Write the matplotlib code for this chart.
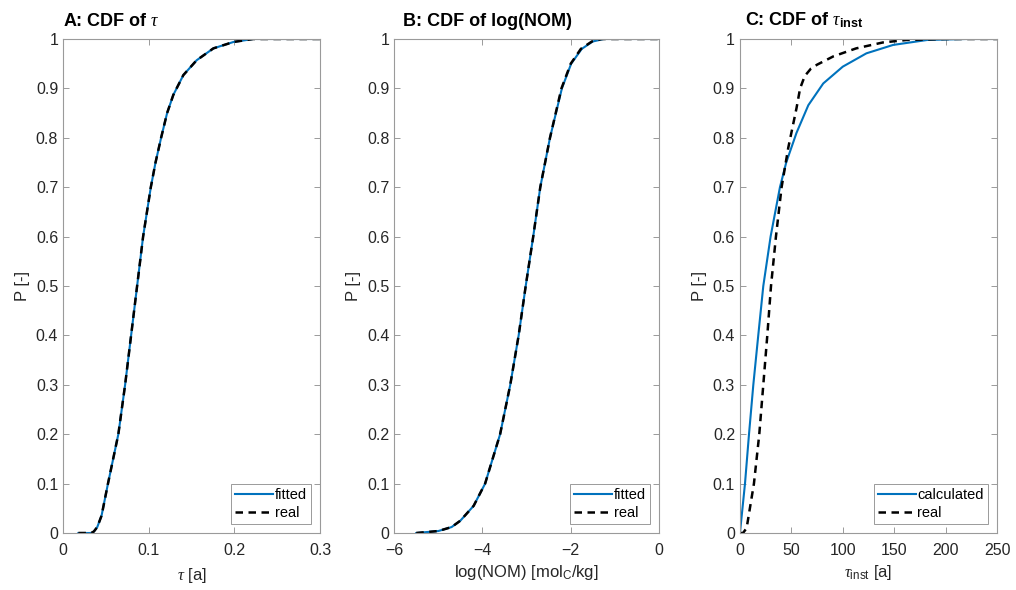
import numpy as np
import matplotlib
matplotlib.use('Agg')
import matplotlib.pyplot as plt

plt.rcParams['font.family'] = ['Liberation Sans', 'DejaVu Sans']
plt.rcParams['mathtext.fontset'] = 'custom'
plt.rcParams['mathtext.rm'] = 'Liberation Sans'
plt.rcParams['mathtext.it'] = 'Liberation Serif:italic'
plt.rcParams['mathtext.bf'] = 'Liberation Sans:bold'

# values
P_A = [0, 0, 0.003, 0.012, 0.035, 0.1, 0.2, 0.3, 0.4, 0.5, 0.6, 0.7, 0.75, 0.8, 0.85, 0.887,
       0.927, 0.957, 0.981, 0.994, 1, 1]
tau_fit = [0.018, 0.033, 0.036, 0.040, 0.045, 0.0525, 0.0646, 0.0725, 0.0795, 0.0865, 0.0935,
           0.1025, 0.108, 0.1145, 0.1215, 0.1288, 0.1405, 0.156, 0.1755, 0.199, 0.222, 0.30]
tau_real = [0.018, 0.033, 0.036, 0.040, 0.045, 0.0525, 0.0646, 0.0725, 0.0795, 0.0865, 0.0935,
            0.1025, 0.108, 0.1145, 0.1215, 0.1288, 0.1405, 0.156, 0.1755, 0.199, 0.222, 0.30]

P_B = [0, 0.004, 0.012, 0.025, 0.055, 0.1, 0.2, 0.3, 0.4, 0.5, 0.6, 0.7, 0.8, 0.9, 0.95, 0.98,
       0.995, 1, 1]
nom_fit = [-5.5, -5.0, -4.7, -4.5, -4.2, -3.94, -3.6, -3.37, -3.18, -3.02, -2.85, -2.69, -2.47,
           -2.2, -1.99, -1.75, -1.5, -1.25, 0]
nom_real = [-5.5, -5.0, -4.7, -4.5, -4.2, -3.94, -3.6, -3.37, -3.18, -3.02, -2.85, -2.69, -2.47,
            -2.21, -2.0, -1.77, -1.52, -1.3, 0]

P_calc = [0, 0.1, 0.2, 0.3, 0.4, 0.5, 0.6, 0.7, 0.75, 0.81, 0.866, 0.91, 0.944, 0.971, 0.988,
          0.998, 1, 1]
tinst_calc = [0, 4.9, 8.8, 13.0, 17.8, 22.7, 29.8, 38.9, 45, 55, 66.5, 81, 100, 123, 149, 182,
              220, 250]
P_real = [0, 0, 0.01, 0.1, 0.2, 0.3, 0.4, 0.5, 0.6, 0.7, 0.78, 0.82, 0.86, 0.9, 0.925, 0.94,
          0.948, 0.965, 0.981, 0.993, 0.998, 1, 1]
tinst_real = [0, 3, 6.5, 13.6, 18.8, 22.7, 26.6, 30.2, 35, 40.5, 47, 51, 55, 58.5, 63, 69, 75, 91,
              113, 139, 162, 200, 250]

blue = (0, 0.447, 0.741)
txt = '#262626'
frame = '#9a9a9a'


def style(ax):
    ax.set_ylim(0, 1)
    ax.set_yticks(np.arange(0, 1.01, 0.1))
    ax.set_yticklabels(['0', '0.1', '0.2', '0.3', '0.4', '0.5', '0.6', '0.7', '0.8', '0.9', '1'])
    ax.tick_params(direction='in', top=True, right=True, labelsize=11.5, colors=frame,
                   labelcolor=txt, length=4, width=0.7)
    ax.tick_params(axis='x', pad=7)
    for s in ax.spines.values():
        s.set_color(frame)
        s.set_linewidth(0.8)
    ax.set_ylabel('P [-]', fontsize=12, color=txt, labelpad=4)


def title(ax, s, x0):
    ax.text(x0, 1.018, s, transform=ax.transAxes, ha='left', va='bottom',
            fontsize=13, fontweight='bold', color='k')


fig = plt.figure(figsize=(10.16, 5.9), dpi=100)
axA = fig.add_axes([0.062, 0.0966, 0.253, 0.8373])
axB = fig.add_axes([0.388, 0.0966, 0.2606, 0.8373])
axC = fig.add_axes([0.7283, 0.0966, 0.253, 0.8373])

axA.plot(tau_fit, P_A, color=blue, lw=1.5, label='fitted')
axA.plot(tau_real, P_A, 'k--', lw=1.8, dashes=(3, 2.2), label='real')
axA.set_xlim(0, 0.3)
axA.set_xticks([0, 0.1, 0.2, 0.3])
axA.set_xticklabels(['0', '0.1', '0.2', '0.3'])
style(axA)
axA.set_xlabel(r'$\tau$ [a]', fontsize=12, color=txt, labelpad=6)
title(axA, r'A: CDF of $\tau$', 0.0)

axB.plot(nom_fit, P_B, color=blue, lw=1.5, label='fitted')
axB.plot(nom_real, P_B, 'k--', lw=1.8, dashes=(3, 2.2), label='real')
axB.set_xlim(-6, 0)
axB.set_xticks([-6, -4, -2, 0])
style(axB)
axB.set_xlabel(r'log(NOM) [mol$_{\rm C}$/kg]', fontsize=12, color=txt, labelpad=4)
title(axB, 'B: CDF of log(NOM)', 0.034)

axC.plot(tinst_calc, P_calc, color=blue, lw=1.5, label='calculated')
axC.plot(tinst_real, P_real, 'k--', lw=1.8, dashes=(3, 2.2), label='real')
axC.set_xlim(0, 250)
axC.set_xticks([0, 50, 100, 150, 200, 250])
style(axC)
axC.set_xlabel(r'$\tau_{\rm inst}$ [a]', fontsize=12, color=txt, labelpad=4)
title(axC, r'C: CDF of $\tau_{\mathbf{inst}}$', 0.02)

for ax in (axA, axB, axC):
    leg = ax.legend(loc='lower right', fontsize=10.5, handlelength=2.6, handletextpad=0.1,
                    borderpad=0.3, labelspacing=0.25, fancybox=False, framealpha=1,
                    borderaxespad=0.6)
    leg.get_frame().set_edgecolor(frame)
    leg.get_frame().set_linewidth(0.7)

fig.savefig('out.png', dpi=100)
